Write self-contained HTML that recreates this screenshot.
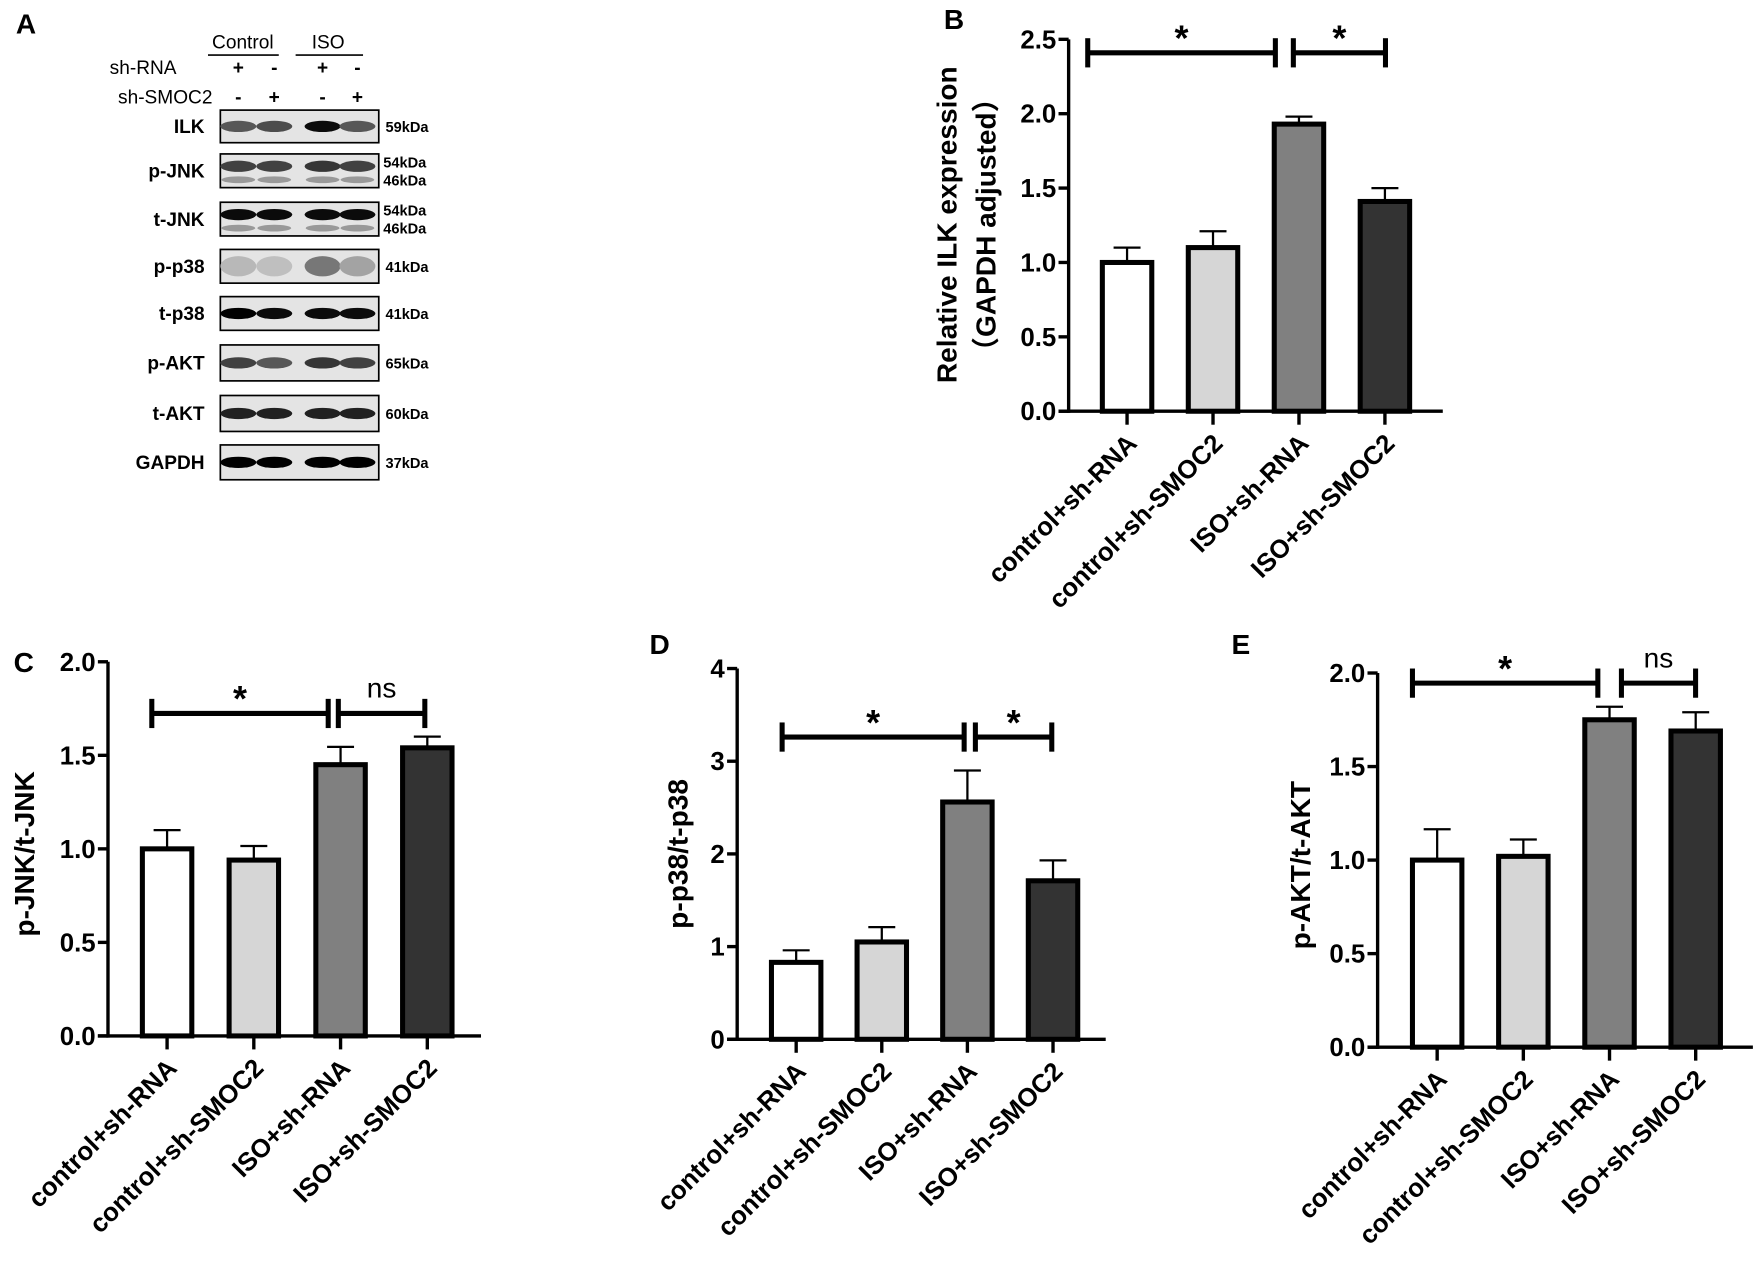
<!DOCTYPE html>
<html><head><meta charset="utf-8"><style>
html,body{margin:0;padding:0;background:#fff;}
svg{display:block;font-family:"Liberation Sans","Noto Sans CJK SC",sans-serif;font-weight:bold;}
</style></head><body>
<svg id="fig" width="1762" height="1273" viewBox="0 0 1568 1133" xmlns="http://www.w3.org/2000/svg">
<rect width="1568" height="1133" fill="#fff"/>
<g id="blot"></g>
</svg>
<script>
const categories = ["control+sh-RNA","control+sh-SMOC2","ISO+sh-RNA","ISO+sh-SMOC2"];
const fills = ["#ffffff","#d6d6d6","#808080","#333333"];
const ilkValues = [1.0,1.1,1.93,1.41];
const ilkErrors = [0.1,0.11,0.05,0.09];
const ilkTicks = ["0.0","0.5","1.0","1.5","2.0","2.5"];
const jnkValues = [1.0,0.94,1.45,1.54];
const jnkErrors = [0.1,0.075,0.095,0.06];
const jnkTicks = ["0.0","0.5","1.0","1.5","2.0"];
const p38Values = [0.83,1.05,2.56,1.71];
const p38Errors = [0.13,0.16,0.34,0.22];
const p38Ticks = ["0","1","2","3","4"];
const aktValues = [1.0,1.02,1.75,1.69];
const aktErrors = [0.165,0.09,0.07,0.1];
const aktTicks = ["0.0","0.5","1.0","1.5","2.0"];

const NS="http://www.w3.org/2000/svg";
const svg=document.getElementById('fig');
function mk(tag,attrs,parent,text){const e=document.createElementNS(NS,tag);for(const k in attrs)e.setAttribute(k,attrs[k]);if(text!==undefined)e.textContent=text;(parent||svg).appendChild(e);return e;}

function chart(o){
  const g=mk('g',{});
  
  
  const ymax=parseFloat(o.ticks[o.ticks.length-1]);
  const y=v=>o.y0-(v/ymax)*(o.y0-o.yTop);
  const x=i=>o.x0+i*o.step;
  const ya=mk('line',{x1:o.ax,y1:o.yTop,x2:o.ax,y2:o.y0+1.5,stroke:'#000','stroke-width':3},g);
  
  
  o.ticks.forEach(t=>{const v=parseFloat(t);const yy=y(v);
    mk('line',{x1:o.ax-9,y1:yy,x2:o.ax,y2:yy,stroke:'#000','stroke-width':3},g);
    const tl=mk('text',{x:o.ax-11,y:yy+8,'text-anchor':'end','font-size':23},g,t);
    
    
  });
  const xa=mk('line',{x1:o.ax-9,y1:o.y0,x2:o.axEnd,y2:o.y0,stroke:'#000','stroke-width':3},g);
  
  
  const bw=44;
  o.values.forEach((v,i)=>{
    const cx=x(i), top=y(v), et=y(v+o.errors[i]);
    const eb=mk('line',{x1:cx,y1:top,x2:cx,y2:et,stroke:'#000','stroke-width':2},g);
    
    
    mk('line',{x1:cx-12,y1:et,x2:cx+12,y2:et,stroke:'#000','stroke-width':2},g);
    const b=mk('rect',{x:cx-bw/2,y:top,width:bw,height:o.y0-top,fill:fills[i],stroke:'#000','stroke-width':4.5},g);
    
    
    mk('line',{x1:cx,y1:o.y0,x2:cx,y2:o.y0+12,stroke:'#000','stroke-width':3},g);
    const lx=cx+10, ly=o.y0+30;
    const xl=mk('text',{x:lx,y:ly,'text-anchor':'end','font-size':23,transform:`rotate(-45 ${lx} ${ly})`},g,categories[i]);
    
    
  });
  o.brackets.forEach(br=>{
    const bg=mk('g',{},g);
    
    
    mk('line',{x1:br[0],y1:br[2],x2:br[1],y2:br[2],stroke:'#000','stroke-width':4.5},bg);
    mk('line',{x1:br[0],y1:br[2]-13,x2:br[0],y2:br[2]+13,stroke:'#000','stroke-width':4.5},bg);
    mk('line',{x1:br[1],y1:br[2]-13,x2:br[1],y2:br[2]+13,stroke:'#000','stroke-width':4.5},bg);
    const isStar=br[3]==='*';
    mk('text',{x:(br[0]+br[1])/2,y:isStar?br[2]-2:br[2]-14,'text-anchor':'middle','font-size':isStar?32:25,'font-weight':isStar?'bold':'normal'},bg,br[3]);
  });
  o.title.forEach((t,k)=>{
    const tx=o.titleX+k*35, ty=o.titleY;
    const tt=mk('text',{x:tx,y:ty,'text-anchor':'middle','font-size':25,transform:`rotate(-90 ${tx} ${ty})`},g,t);
    
    
  });
  const pl=mk('text',{x:o.label[1],y:o.label[2],'font-size':25},g,o.label[0]);
  
  
}

chart({name:'chart-b-ilk',ax:951,yTop:35,y0:366,axEnd:1284,x0:1003,step:76.5,ticks:ilkTicks,values:ilkValues,errors:ilkErrors,
  brackets:[[968,1135,47,'*'],[1151,1233,47,'*']],title:['Relative ILK expression','（GAPDH adjusted）'],titleX:851,titleY:200,label:['B',840,26]});
chart({name:'chart-c-jnk',ax:96,yTop:589,y0:922,axEnd:428,x0:148.6,step:77.2,ticks:jnkTicks,values:jnkValues,errors:jnkErrors,
  brackets:[[135,292,635,'*'],[301,378,635,'ns']],title:['p-JNK/t-JNK'],titleX:30,titleY:760,label:['C',12,598]});
chart({name:'chart-d-p38',ax:656,yTop:595,y0:925,axEnd:984,x0:708.5,step:76.2,ticks:p38Ticks,values:p38Values,errors:p38Errors,
  brackets:[[696,858,656,'*'],[868,936,656,'*']],title:['p-p38/t-p38'],titleX:612,titleY:760,label:['D',578,582]});
chart({name:'chart-e-akt',ax:1226,yTop:599,y0:932,axEnd:1560,x0:1279,step:76.7,ticks:aktTicks,values:aktValues,errors:aktErrors,
  brackets:[[1257,1422,608,'*'],[1443,1509,608,'ns']],title:['p-AKT/t-AKT'],titleX:1166,titleY:770,label:['E',1096,582]});

const blot=document.getElementById('blot');
mk('text',{x:14,y:30,'font-size':25},blot,'A');
mk('text',{x:216,y:43,'text-anchor':'middle','font-size':17,'font-weight':'normal'},blot,'Control');
mk('text',{x:292,y:43,'text-anchor':'middle','font-size':17,'font-weight':'normal'},blot,'ISO');
mk('line',{x1:185,y1:49,x2:248,y2:49,stroke:'#000','stroke-width':1.5},blot);
mk('line',{x1:263,y1:49,x2:323,y2:49,stroke:'#000','stroke-width':1.5},blot);
mk('text',{x:157,y:66,'text-anchor':'end','font-size':17,'font-weight':'normal'},blot,'sh-RNA');
mk('text',{x:189,y:92,'text-anchor':'end','font-size':17,'font-weight':'normal'},blot,'sh-SMOC2');
const lanes=[212,244,287,318];
['+','-','+','-'].forEach((s,i)=>mk('text',{x:lanes[i],y:66,'text-anchor':'middle','font-size':17},blot,s));
['-','+','-','+'].forEach((s,i)=>mk('text',{x:lanes[i],y:92,'text-anchor':'middle','font-size':17},blot,s));
const rows=[['ILK',98,127,['59kDa'],[0.6,0.65,0.95,0.6]],['p-JNK',137,167,['54kDa','46kDa'],[0.7,0.7,0.75,0.7]],
 ['t-JNK',180,210,['54kDa','46kDa'],[0.95,0.95,0.95,0.95]],['p-p38',222,252,['41kDa'],[0.15,0.12,0.45,0.25]],
 ['t-p38',264,294,['41kDa'],[1,0.95,0.95,0.95]],['p-AKT',307,339,['65kDa'],[0.7,0.6,0.75,0.7]],
 ['t-AKT',352,384,['60kDa'],[0.85,0.85,0.85,0.85]],['GAPDH',396,427,['37kDa'],[1,1,1,1]]];
rows.forEach(r=>{
  const rg=mk('g',{},blot);
  
  
  mk('rect',{x:196,y:r[1],width:141,height:r[2]-r[1],fill:'#e4e4e4',stroke:'#000','stroke-width':1.5},rg);
  const cy=(r[1]+r[2])/2;
  r[4].forEach((d,i)=>{
    const c=Math.round(255*(1-d)*0.85);
    mk('ellipse',{cx:lanes[i],cy:r[3].length>1?cy-4:cy,rx:16,ry:r[0]==='p-p38'?9:5,fill:`rgb(${c},${c},${c})`},rg);
    if(r[3].length>1) mk('ellipse',{cx:lanes[i],cy:cy+8,rx:15,ry:3,fill:'#999'},rg);
  });
  mk('text',{x:182,y:cy+6,'text-anchor':'end','font-size':17,'font-weight':'bold'},rg,r[0]);
  if(r[3].length>1){
    mk('text',{x:341,y:cy-3,'font-size':13},rg,r[3][0]);
    mk('text',{x:341,y:cy+13,'font-size':13},rg,r[3][1]);
  } else mk('text',{x:343,y:cy+5,'font-size':13},rg,r[3][0]);
});
</script>
</body></html>
